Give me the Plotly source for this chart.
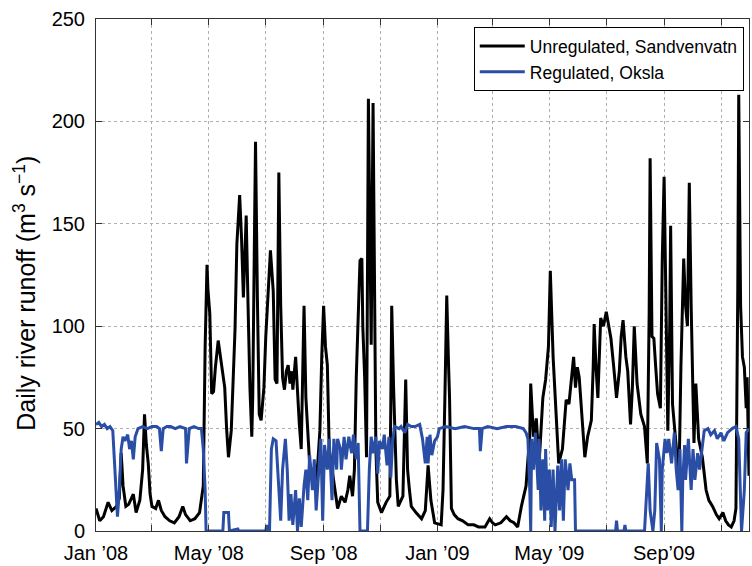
import plotly.graph_objects as go
import pandas as pd

# ---------------- data (days after 1 Jan 2008, runoff m3/s) ----------------
unreg_days = [0, 4, 8, 13, 17, 22, 25, 27, 29, 32, 35, 40, 43, 47, 50, 52, 54, 56, 58, 60,
              64, 67, 70, 74, 79, 84, 89, 93, 96, 101, 106, 111, 115, 117, 119, 120, 122, 124, 126, 128,
              131, 133, 135, 138, 140, 142, 145, 147, 149, 151, 153, 154, 156, 158, 160, 161, 163, 165, 167, 168,
              170, 171, 173, 175, 177, 180, 182, 185, 187, 190, 192, 194, 196, 198, 200, 202, 204, 206, 208, 210,
              211, 214, 216, 218, 220, 223, 225, 227, 229, 232, 236, 238, 240, 242, 244, 246, 248, 250, 253, 256,
              259, 263, 267, 270, 272, 275, 277, 279, 281, 283, 285, 286, 288, 290, 292, 294, 295, 297, 299, 300,
              302, 306, 311, 315, 316, 317, 319, 320, 322, 324, 329, 332, 334, 336, 338, 343, 349, 353, 356, 359,
              363, 370, 372, 374, 376, 378, 379, 381, 384, 388, 393, 399, 405, 410, 417, 422, 425, 428, 434, 440,
              444, 448, 452, 456, 461, 463, 465, 466, 469, 472, 475, 479, 482, 485, 487, 490, 493, 496, 500, 504,
              507, 510, 512, 514, 516, 518, 520, 524, 527, 531, 533, 534, 536, 538, 541, 544, 547, 550, 552, 555,
              558, 561, 563, 565, 568, 570, 573, 575, 577, 580, 584, 588, 591, 593, 594, 596, 598, 600, 602, 605,
              607, 609, 611, 613, 615, 616, 618, 620, 623, 625, 627, 630, 632, 634, 636, 638, 641, 643, 646, 650,
              654, 657, 661, 665, 668, 672, 675, 678, 681, 684, 686, 688, 689, 690, 691, 693, 695, 697, 698, 700]
unreg_vals = [11, 5, 7, 14, 10, 12, 16, 38, 22, 12, 13, 18, 9, 15, 30, 57, 42, 33, 18, 12,
              11, 15, 10, 7, 5, 4, 7, 12, 8, 5, 6, 9, 22, 90, 130, 118, 106, 67, 68, 80,
              93, 86, 81, 70, 50, 36, 49, 75, 98, 140, 155, 164, 143, 114, 140, 154, 110, 70, 46, 65,
              150, 190, 114, 57, 54, 70, 95, 120, 137, 117, 74, 72, 175, 110, 75, 69, 78, 81, 72, 78,
              69, 85, 65, 52, 40, 110, 65, 45, 33, 28, 22, 35, 49, 85, 110, 90, 81, 40, 30, 20,
              11, 17, 14, 20, 27, 17, 30, 75, 110, 132, 133, 100, 75, 36, 211, 130, 91, 209, 120, 40,
              14, 9, 14, 17, 60, 110, 70, 50, 25, 12, 17, 74, 30, 20, 12, 9, 6, 10, 32, 15,
              4, 3, 20, 65, 115, 80, 65, 11, 8, 6, 5, 3, 3, 2, 2, 6, 4, 3, 4, 7,
              5, 4, 2, 12, 22, 35, 46, 72, 46, 55, 33, 65, 74, 90, 127, 85, 57, 33, 40, 64,
              62, 75, 85, 70, 80, 75, 60, 36, 46, 54, 80, 101, 80, 65, 104, 100, 107, 100, 94, 80,
              65, 78, 95, 103, 85, 78, 52, 70, 100, 72, 57, 51, 33, 107, 182, 95, 94, 80, 67, 60,
              132, 173, 120, 49, 100, 149, 62, 50, 36, 27, 80, 133, 110, 100, 170, 110, 43, 72, 45, 36,
              20, 15, 12, 8, 6, 9, 5, 3, 2, 5, 11, 120, 213, 160, 110, 85, 80, 60, 75, 27]

reg_days = [0, 3, 6, 9, 12, 15, 18, 20, 23, 25, 27, 29, 31, 34, 36, 38, 40, 42, 45, 50,
            55, 60, 65, 68, 70, 72, 76, 80, 85, 90, 96, 97, 99, 100, 105, 110, 113, 115, 117, 118,
            136, 137, 142, 143, 152, 153, 182, 183, 184, 186, 188, 190, 193, 196, 198, 200, 203, 205, 207, 209,
            211, 214, 216, 218, 220, 223, 225, 227, 229, 232, 234, 236, 239, 241, 243, 245, 248, 250, 253, 255,
            258, 259, 262, 263, 266, 268, 271, 274, 276, 279, 281, 283, 291, 293, 295, 297, 300, 302, 304, 307,
            309, 312, 314, 316, 318, 320, 325, 327, 331, 334, 338, 342, 347, 350, 353, 355, 356, 358, 360, 363,
            366, 368, 375, 385, 395, 405, 411, 412, 414, 420, 430, 440, 450, 458, 461, 463, 465, 466, 467, 469,
            471, 474, 475, 477, 479, 481, 482, 484, 486, 488, 490, 492, 495, 497, 499, 501, 503, 506, 508, 510,
            513, 514, 557, 558, 559, 566, 567, 568, 588, 591, 592, 594, 597, 599, 601, 604, 606, 607, 610, 612,
            614, 617, 620, 622, 624, 626, 628, 629, 631, 632, 635, 638, 640, 642, 645, 647, 650, 652, 656, 659,
            663, 666, 670, 673, 677, 682, 686, 689, 692, 695, 697, 700]
reg_vals = [52, 53, 51, 52, 50, 51, 49, 30, 7, 20, 40, 46, 44, 47, 40, 44, 35, 46, 50, 51,
            50, 51, 51, 50, 39, 50, 51, 51, 50, 51, 50, 33, 45, 50, 51, 50, 50, 40, 20, 0,
            0, 9, 9, 0, 1, 0, 0, 3, 0, 0, 40, 45, 44, 20, 5, 30, 45, 30, 5, 18,
            3, 20, 0, 16, 2, 22, 30, 15, 37, 20, 35, 10, 30, 45, 5, 42, 30, 45, 15, 45,
            30, 45, 40, 30, 46, 35, 46, 38, 47, 35, 43, 0, 0, 30, 46, 38, 46, 28, 44, 40,
            47, 32, 46, 26, 44, 51, 50, 51, 48, 52, 51, 51, 52, 45, 33, 46, 33, 47, 37, 44,
            46, 50, 51, 50, 51, 50, 50, 39, 50, 51, 50, 51, 51, 50, 48, 45, 20, 0, 45, 30,
            48, 20, 45, 10, 35, 5, 40, 10, 30, 2, 30, 0, 32, 10, 35, 5, 35, 20, 33, 25,
            25, 0, 0, 5, 0, 0, 3, 0, 0, 25, 33, 10, 0, 10, 43, 35, 0, 30, 45, 38,
            45, 33, 48, 30, 20, 40, 0, 25, 42, 25, 45, 20, 40, 25, 38, 30, 42, 49, 50, 47,
            49, 45, 48, 44, 48, 50, 51, 45, 0, 20, 48, 50]

tick_dates = ["2008-01-01", "2008-03-01", "2008-05-01", "2008-07-01", "2008-09-01", "2008-11-01",
              "2009-01-01", "2009-03-01", "2009-05-01", "2009-07-01", "2009-09-01", "2009-11-01"]
tick_labels = ["Jan \u201908", "", "May \u201908", "", "Sep \u201908", "",
               "Jan \u201909", "", "May \u201909", "", "Sep\u201909", ""]
y_ticks = [0, 50, 100, 150, 200, 250]

start = pd.Timestamp("2008-01-01")
unreg_x = start + pd.to_timedelta(unreg_days, unit="D")
reg_x = start + pd.to_timedelta(reg_days, unit="D")

FONT = "Liberation Sans, Arial, Helvetica, sans-serif"
BLUE = "#2a4ea6"

fig = go.Figure()
fig.add_trace(go.Scatter(x=unreg_x, y=unreg_vals, mode="lines",
                         name="Unregulated, Sandvenvatn",
                         line=dict(color="black", width=3)))
fig.add_trace(go.Scatter(x=reg_x, y=reg_vals, mode="lines",
                         name="Regulated, Oksla",
                         line=dict(color=BLUE, width=3)))

fig.update_layout(
    width=752, height=566,
    margin=dict(l=96, r=2, t=19, b=31),
    paper_bgcolor="white", plot_bgcolor="white",
    font=dict(family=FONT, size=20, color="black"),
    showlegend=True,
    legend=dict(x=0.992, y=0.984, xanchor="right", yanchor="top",
                bgcolor="white", bordercolor="black", borderwidth=1,
                font=dict(size=17.5), tracegroupgap=0, itemwidth=45),
)
fig.update_xaxes(
    range=["2008-01-01", "2009-12-01"],
    tickvals=pd.to_datetime(tick_dates), ticktext=tick_labels,
    ticks="inside", ticklen=6, tickcolor="#333", tickwidth=1,
    showline=True, linecolor="#333", linewidth=1, mirror="ticks",
    showgrid=True, gridcolor="#b0b0b0", griddash="dot", gridwidth=1,
    zeroline=False, tickfont=dict(size=20), ticklabelstandoff=4,
)
fig.update_yaxes(
    range=[0, 250], tickvals=y_ticks,
    ticks="inside", ticklen=6, tickcolor="#333", tickwidth=1,
    showline=True, linecolor="#333", linewidth=1, mirror="ticks",
    showgrid=True, gridcolor="#b0b0b0", griddash="dot", gridwidth=1,
    zeroline=False, tickfont=dict(size=20), ticklabelstandoff=6,
)
fig.add_annotation(
    text="Daily river runoff (m<sup>3</sup> s<sup>\u22121</sup>)",
    xref="paper", yref="paper", x=-0.109, y=0.465,
    xanchor="center", yanchor="middle", textangle=-90,
    showarrow=False, font=dict(size=25, family=FONT, color="black"),
)

fig.write_html("out.html")
